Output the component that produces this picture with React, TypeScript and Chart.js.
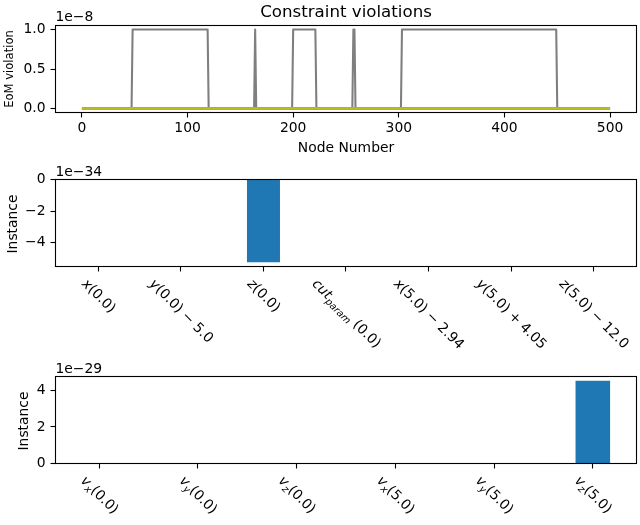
import React, { useEffect, useRef } from 'react';
import { Chart, registerables } from 'chart.js';

Chart.register(...registerables);

const FONT = 'DejaVu Sans';
const FS = 13.89;

// ---- Top panel: EoM violation per node ----
const nodeNumbers = [0, 47, 48, 119, 120, 163, 164, 165, 199, 200, 221, 222, 256, 257, 258, 259, 302, 303, 449, 450, 500];
const grayViolation = [0, 0, 1e-8, 1e-8, 0, 0, 1e-8, 0, 0, 1e-8, 1e-8, 0, 0, 1e-8, 1e-8, 0, 0, 1e-8, 1e-8, 0, 0];
const zeroNodes = [0, 500];
const pinkViolation = [0, 0];
const oliveViolation = [0, 0];
const eomScale = 1e-8;
const eomTicks = [0, 0.5, 1.0];
const nodeTicks = [0, 100, 200, 300, 400, 500];

// ---- Middle panel: constraint instances ----
const constraintLabels = ['x(0.0)', 'y(0.0) \u2212 5.0', 'z(0.0)', 'cut_{param} (0.0)', 'x(5.0) \u2212 2.94', 'y(5.0) + 4.05', 'z(5.0) \u2212 12.0'];
const constraintValues = [0, 0, -5.25e-34, 0, 0, 0, 0];
const constraintScale = 1e-34;
const constraintTicks = [0, -2, -4];

// ---- Bottom panel: velocity instances ----
const velocityLabels = ['v_x(0.0)', 'v_y(0.0)', 'v_z(0.0)', 'v_x(5.0)', 'v_y(5.0)', 'v_z(5.0)'];
const velocityValues = [0, 0, 0, 0, 0, 4.54e-29];
const velocityScale = 1e-29;
const velocityTicks = [0, 2, 4];

const W = 640;
const H = 525;
const AX_L = 55.5;
const AX_R = 636.5;
const XAXIS_H = 40;

const minus = (s: string) => s.replace('-', '\u2212');

function parseMath(s: string) {
  const runs: { text: string; italic: boolean; sub: boolean }[] = [];
  let i = 0;
  while (i < s.length) {
    const c = s[i];
    if (c === '_') {
      let sub: string;
      if (s[i + 1] === '{') {
        const j = s.indexOf('}', i);
        sub = s.slice(i + 2, j);
        i = j + 1;
      } else {
        sub = s[i + 1];
        i += 2;
      }
      runs.push({ text: sub, italic: true, sub: true });
    } else if (/[A-Za-z]/.test(c)) {
      runs.push({ text: c, italic: true, sub: false });
      i++;
    } else {
      runs.push({ text: c, italic: false, sub: false });
      i++;
    }
  }
  return runs;
}

function drawMathLabel(ctx: CanvasRenderingContext2D, label: string, cx: number, top: number, fs: number) {
  const runs = parseMath(label);
  const fonts = runs.map((r) => `${r.italic ? 'italic ' : ''}${r.sub ? fs * 0.7 : fs}px "${FONT}"`);
  let w = 0;
  const widths = runs.map((r, i) => {
    ctx.font = fonts[i];
    const m = ctx.measureText(r.text).width;
    w += m;
    return m;
  });
  const h = Math.SQRT1_2 * (w + fs);
  ctx.save();
  ctx.translate(cx, top + h / 2);
  ctx.rotate(Math.PI / 4);
  ctx.textAlign = 'left';
  ctx.textBaseline = 'alphabetic';
  ctx.fillStyle = '#000';
  let x = -w / 2;
  const base = 0.26 * fs;
  runs.forEach((r, i) => {
    ctx.font = fonts[i];
    ctx.fillText(r.text, x, base + (r.sub ? 0.22 * fs : 0));
    x += widths[i];
  });
  ctx.restore();
}

function drawText(ctx: CanvasRenderingContext2D, text: string, x: number, y: number, size: number, align: CanvasTextAlign, rot = 0) {
  ctx.save();
  ctx.translate(x, y);
  if (rot) ctx.rotate(rot);
  ctx.font = `${size}px "${FONT}"`;
  ctx.fillStyle = '#000';
  ctx.textAlign = align;
  ctx.textBaseline = 'alphabetic';
  ctx.fillText(text, 0, 0);
  ctx.restore();
}

function makePlugin(id: string, draw: (ctx: CanvasRenderingContext2D, chart: any) => void) {
  return {
    id,
    afterDatasetsDraw(chart: any) {
      const ctx = chart.ctx;
      const { left, top, right, bottom } = chart.chartArea;
      ctx.save();
      ctx.strokeStyle = '#000';
      ctx.lineWidth = 1.1;
      ctx.strokeRect(left, top, right - left, bottom - top);
      ctx.restore();
    },
    afterDraw(chart: any) {
      const ctx = chart.ctx;
      ctx.save();
      draw(ctx, chart);
      ctx.restore();
    },
  };
}

const tickGrid = {
  display: true,
  drawOnChartArea: false,
  drawTicks: true,
  tickLength: 5,
  tickColor: '#000',
  tickWidth: 1.1,
  color: '#000',
};

function yScale(min: number, max: number, ticks: number[], fmt: (v: number) => string) {
  return {
    type: 'linear',
    min,
    max,
    afterBuildTicks: (s: any) => {
      s.ticks = ticks.map((v) => ({ value: v }));
    },
    afterFit: (s: any) => {
      s.width = AX_L;
    },
    ticks: {
      autoSkip: false,
      callback: (v: number) => fmt(v),
      color: '#000',
      font: { family: FONT, size: FS },
      padding: 5,
    },
    grid: tickGrid,
    border: { display: false },
  };
}

function padding(top: number, bottom: number) {
  return { left: 0, right: W - AX_R, top, bottom: H - bottom - XAXIS_H };
}

function topConfig(): any {
  const T = 25.5, B = 112.5;
  // Chart.js paints dataset 0 last (on top), so the list runs top-most first.
  return {
    type: 'line',
    data: {
      datasets: [
        {
          data: zeroNodes.map((x, i) => ({ x, y: oliveViolation[i] / eomScale })),
          borderColor: '#bcbd22',
          borderWidth: 2.08,
        },
        {
          data: zeroNodes.map((x, i) => ({ x, y: pinkViolation[i] / eomScale })),
          borderColor: '#c57fb5',
          borderWidth: 3,
        },
        {
          data: nodeNumbers.map((x, i) => ({ x, y: grayViolation[i] / eomScale })),
          borderColor: '#7f7f7f',
          borderWidth: 2.08,
        },
      ],
    },
    options: {
      responsive: false,
      animation: false,
      devicePixelRatio: 1,
      events: [],
      layout: { padding: padding(T, B) },
      elements: { point: { radius: 0 }, line: { tension: 0, fill: false, borderJoinStyle: 'round' } },
      plugins: { legend: { display: false }, title: { display: false }, tooltip: { enabled: false } },
      scales: {
        x: {
          type: 'linear',
          min: -25,
          max: 525,
          afterBuildTicks: (s: any) => {
            s.ticks = nodeTicks.map((v) => ({ value: v }));
          },
          afterFit: (s: any) => {
            s.height = XAXIS_H;
          },
          ticks: {
            autoSkip: false,
            maxRotation: 0,
            callback: (v: number) => String(v),
            color: '#000',
            font: { family: FONT, size: FS },
            padding: 3,
          },
          grid: tickGrid,
          border: { display: false },
        },
        y: yScale(-0.05, 1.05, eomTicks, (v) => v.toFixed(1)),
      },
    },
    plugins: [
      makePlugin('topText', (ctx, chart) => {
        const { left, right, top, bottom } = chart.chartArea;
        drawText(ctx, 'Constraint violations', (left + right) / 2, top - 8.6, 16.67, 'center');
        drawText(ctx, '1e\u22128', left, top - 4.3, FS, 'left');
        drawText(ctx, 'Node Number', (left + right) / 2, 151.7, FS, 'center');
        drawText(ctx, 'EoM violation', 13.3, (top + bottom) / 2, 11.57, 'center', -Math.PI / 2);
      }),
    ],
  };
}

function barConfig(labels: string[], values: number[], scale: number, ticks: number[], barWidth: number, T: number, B: number, exp: string, ylabelX: number): any {
  const n = labels.length;
  const vmin = Math.min(0, ...values.map((v) => v / scale));
  const vmax = Math.max(0, ...values.map((v) => v / scale));
  const margin = (n - 1 + barWidth) * 0.05;
  return {
    type: 'bar',
    data: {
      datasets: [
        {
          data: values.map((v, i) => ({ x: i, y: v / scale })),
          backgroundColor: '#1f77b4',
          borderWidth: 0,
          barPercentage: barWidth,
          categoryPercentage: 1,
        },
      ],
    },
    options: {
      responsive: false,
      animation: false,
      devicePixelRatio: 1,
      events: [],
      layout: { padding: padding(T, B) },
      plugins: { legend: { display: false }, title: { display: false }, tooltip: { enabled: false } },
      scales: {
        x: {
          type: 'linear',
          offset: false,
          min: -barWidth / 2 - margin,
          max: n - 1 + barWidth / 2 + margin,
          afterBuildTicks: (s: any) => {
            s.ticks = labels.map((_, i) => ({ value: i }));
          },
          afterFit: (s: any) => {
            s.height = XAXIS_H;
          },
          ticks: { display: false, autoSkip: false },
          grid: { ...tickGrid, offset: false },
          border: { display: false },
        },
        y: yScale(vmin * 1.05, vmax * 1.05, ticks, (v) => minus(String(v))),
      },
    },
    plugins: [
      makePlugin('barText' + n, (ctx, chart) => {
        const { left, top, bottom } = chart.chartArea;
        drawText(ctx, exp, left, top - 3.8, FS, 'left');
        drawText(ctx, 'Instance', ylabelX, (top + bottom) / 2 + 1, FS, 'center', -Math.PI / 2);
        const xs = chart.scales.x;
        labels.forEach((lab, i) => {
          drawMathLabel(ctx, lab, xs.getPixelForValue(i), bottom + 10.5, FS);
        });
      }),
    ],
  };
}

export default function App() {
  const r1 = useRef<HTMLCanvasElement>(null);
  const r2 = useRef<HTMLCanvasElement>(null);
  const r3 = useRef<HTMLCanvasElement>(null);

  useEffect(() => {
    const charts = [
      new Chart(r1.current as any, topConfig()),
      new Chart(
        r2.current as any,
        barConfig(constraintLabels, constraintValues, constraintScale, constraintTicks, 0.4, 179.5, 266.5, '1e\u221234', 16.7)
      ),
      new Chart(
        r3.current as any,
        barConfig(velocityLabels, velocityValues, velocityScale, velocityTicks, 0.35, 376.5, 463.5, '1e\u221229', 28.3)
      ),
    ];
    return () => charts.forEach((c) => c.destroy());
  }, []);

  const st: React.CSSProperties = { position: 'absolute', left: 0, top: 0, width: W, height: H };
  return (
    <div style={{ position: 'fixed', left: 0, top: 0, width: W, height: H, background: '#fff' }}>
      <canvas ref={r1} width={W} height={H} style={st} />
      <canvas ref={r2} width={W} height={H} style={st} />
      <canvas ref={r3} width={W} height={H} style={st} />
    </div>
  );
}
